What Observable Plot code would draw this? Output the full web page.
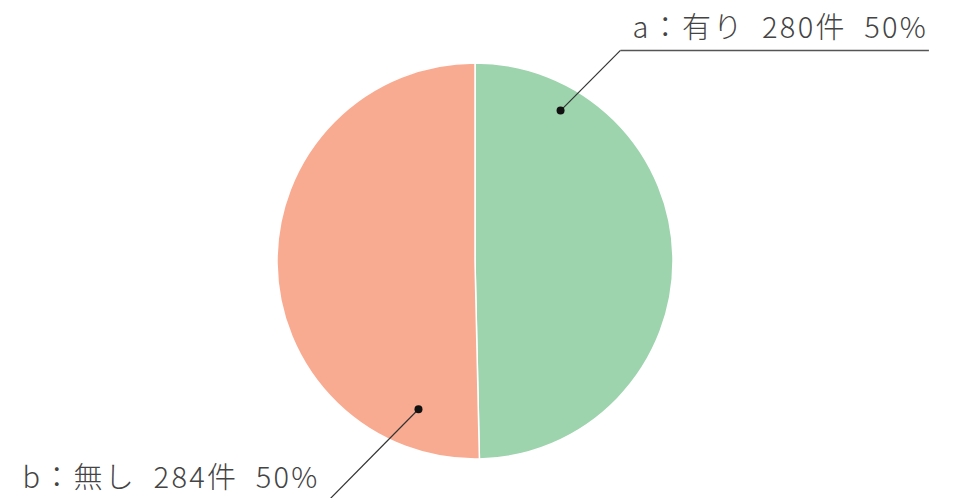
<!DOCTYPE html>
<html><head><meta charset="utf-8">
<script src="https://cdn.jsdelivr.net/npm/d3@7"></script>
<script src="https://cdn.jsdelivr.net/npm/@observablehq/plot@0.6"></script>
<style>
body{margin:0;background:#fff}
#chart svg{display:block}
#chart text{letter-spacing:2.3px}
</style></head>
<body><div id="chart"></div>
<script>
// ---- data ----
const categories = ["a：有り", "b：無し"];
const counts = [280, 284];
const percentLabels = ["50%", "50%"];
const colors = ["#9dd4ae", "#f8ab91"];

// ---- callout layout (radius units; angle clockwise from 12 o'clock) ----
const calloutAngle = [29.4, 201.1];
const calloutRadius = [0.875, 0.80];
const elbowX = [0.732, -0.80];
const elbowY = [1.066, -1.265];
const textX = [0.793, -2.288];
const textY = [1.131, -1.144];

const W = 955, H = 498, CX = 475, CY = 261, R = 198;

const pie = d3.pie().sort(null).value(d => d.count);
const rows = categories.map((c, i) => ({
  cat: c, count: counts[i], pct: percentLabels[i], color: colors[i],
  label: `${c}  ${counts[i]}件  ${percentLabels[i]}`
}));
const arcs = pie(rows);

const callouts = rows.map((d, i) => {
  const a = calloutAngle[i] * Math.PI / 180;
  return {
    ...d,
    dx: calloutRadius[i] * Math.sin(a),
    dy: calloutRadius[i] * Math.cos(a),
    ex: elbowX[i], ey: elbowY[i],
    tx: textX[i], ty: textY[i]
  };
});
// underline runs under the text
const underline = [
  {x1: callouts[0].ex, x2: 2.29, y: callouts[0].ey},
  {x1: callouts[1].ex, x2: -2.29, y: callouts[1].ey}
];

const pieMark = (index, scales) => {
  const cx = scales.x(0), cy = scales.y(0);
  const r = scales.x(1) - scales.x(0);
  const g = d3.create("svg:g").attr("transform", `translate(${cx},${cy})`);
  const arcGen = d3.arc().innerRadius(0).outerRadius(r);
  g.selectAll("path").data(arcs).join("path")
    .attr("d", arcGen)
    .attr("fill", d => d.data.color)
    .attr("stroke", "#ffffff")
    .attr("stroke-width", 1.5);
  return g.node();
};

const chart = Plot.plot({
  width: W, height: H,
  margin: 0,
  x: {domain: [-CX / R, (W - CX) / R], range: [0, W], axis: null},
  y: {domain: [-(H - CY) / R, CY / R], range: [H, 0], axis: null},
  style: {fontFamily: "'Noto Sans CJK JP', 'Noto Sans', sans-serif", background: "#fff"},
  marks: [
    pieMark,
    Plot.link(callouts, {x1: "dx", y1: "dy", x2: "ex", y2: "ey", stroke: "#333", strokeWidth: 1.2}),
    Plot.link(underline, {x1: "x1", x2: "x2", y1: "y", y2: "y", stroke: "#555", strokeWidth: 1.5}),
    Plot.dot(callouts, {x: "dx", y: "dy", r: 4, fill: "#111", stroke: "none"}),
    Plot.text(callouts, {x: "tx", y: "ty", text: "label", textAnchor: "start",
      lineAnchor: "bottom", fontSize: 29, fontWeight: 300, fill: "#444"})
  ]
});
document.getElementById("chart").append(chart);
</script>
</body></html>
